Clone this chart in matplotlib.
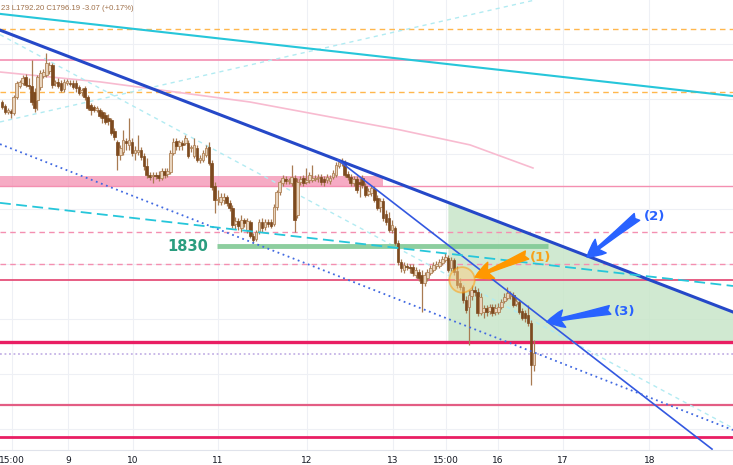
import numpy as np
import matplotlib
matplotlib.use("Agg")
import matplotlib.pyplot as plt
from matplotlib.patches import Ellipse

# candle data, one bar per index
opens = [
    1878.0, 1876.7, 1874.7, 1875.0, 1874.3, 1879.7, 1883.3, 1884.3, 1886.3, 1883.7,
    1883.3, 1881.3, 1878.7, 1883.0, 1886.7, 1887.0, 1888.3, 1890.3, 1884.3, 1884.7,
    1884.3, 1882.3, 1884.3, 1884.3, 1884.3, 1884.3, 1883.0, 1881.3, 1882.7, 1879.7,
    1877.0, 1876.3, 1875.3, 1875.3, 1874.7, 1873.7, 1872.7, 1872.0, 1868.3, 1864.7,
    1860.3, 1861.3, 1865.0, 1863.7, 1864.7, 1861.0, 1861.3, 1862.0, 1860.0, 1856.7,
    1853.7, 1853.3, 1853.7, 1853.7, 1852.7, 1855.0, 1854.0, 1854.7, 1861.0, 1865.0,
    1863.3, 1864.3, 1864.3, 1864.3, 1862.7, 1860.0, 1862.7, 1858.7, 1858.7, 1860.3,
    1863.0, 1857.7, 1850.0, 1845.3, 1844.7, 1845.3, 1846.3, 1844.3, 1842.7, 1837.3,
    1838.3, 1836.0, 1838.7, 1835.3, 1838.0, 1833.3, 1832.3, 1834.7, 1838.0, 1836.3,
    1838.0, 1838.0, 1837.3, 1843.0, 1848.0, 1851.0, 1852.3, 1851.7, 1851.0, 1852.7,
    1840.3, 1851.3, 1852.7, 1851.3, 1852.0, 1852.0, 1852.3, 1852.7, 1853.0, 1852.3,
    1852.0, 1851.7, 1853.0, 1853.7, 1856.7, 1857.7, 1858.0, 1854.0, 1853.0, 1851.0,
    1852.3, 1851.3, 1852.7, 1850.0, 1847.3, 1847.7, 1849.0, 1846.0, 1843.0, 1845.0,
    1840.7, 1839.3, 1835.3, 1836.0, 1831.0, 1824.7, 1822.0, 1823.3, 1823.0, 1823.0,
    1820.3, 1821.3, 1820.3, 1817.7, 1819.3, 1821.0, 1822.0, 1823.3, 1823.3, 1824.3,
    1825.3, 1826.0, 1822.7, 1825.3, 1821.7, 1817.7, 1816.3, 1812.0, 1809.7, 1813.3,
    1815.3, 1814.7, 1807.7, 1808.0, 1809.3, 1808.3, 1809.7, 1808.0, 1808.0, 1809.7,
    1811.7, 1812.7, 1813.3, 1813.7, 1810.7, 1811.3, 1808.3, 1807.7, 1807.0, 1804.3,
    1790.3]
highs = [
    1878.7, 1877.3, 1876.0, 1875.7, 1880.3, 1885.0, 1885.3, 1887.0, 1887.3, 1886.0,
    1892.0, 1882.7, 1887.0, 1888.7, 1889.0, 1894.3, 1891.3, 1891.0, 1885.3, 1886.0,
    1885.3, 1885.7, 1885.7, 1885.3, 1885.3, 1885.3, 1883.7, 1882.7, 1883.3, 1880.3,
    1877.7, 1877.0, 1876.7, 1876.0, 1875.3, 1874.7, 1874.0, 1872.7, 1869.3, 1865.3,
    1863.7, 1868.7, 1866.0, 1872.7, 1866.0, 1863.3, 1867.0, 1863.0, 1861.0, 1859.3,
    1854.7, 1854.7, 1854.7, 1855.0, 1856.0, 1856.0, 1856.0, 1862.0, 1866.0, 1866.0,
    1865.3, 1865.3, 1867.0, 1865.3, 1863.7, 1866.0, 1863.7, 1860.3, 1862.0, 1863.7,
    1864.7, 1858.7, 1851.3, 1848.7, 1847.7, 1847.7, 1847.0, 1845.3, 1843.7, 1839.7,
    1839.3, 1840.3, 1839.3, 1839.3, 1838.7, 1834.3, 1835.3, 1839.0, 1839.3, 1839.0,
    1839.0, 1839.0, 1844.0, 1848.7, 1852.0, 1853.7, 1853.3, 1852.7, 1857.0, 1853.7,
    1852.7, 1853.3, 1853.7, 1856.0, 1854.7, 1857.0, 1853.7, 1854.0, 1854.0, 1853.3,
    1854.0, 1853.7, 1855.3, 1858.0, 1858.7, 1859.3, 1858.7, 1855.0, 1854.0, 1853.3,
    1853.3, 1852.7, 1853.7, 1851.0, 1849.3, 1850.3, 1850.0, 1847.0, 1846.0, 1846.0,
    1842.0, 1841.3, 1838.7, 1836.7, 1832.0, 1825.7, 1824.7, 1824.3, 1824.0, 1824.0,
    1823.0, 1822.3, 1822.0, 1821.3, 1822.3, 1823.7, 1824.7, 1825.0, 1825.7, 1826.7,
    1827.7, 1827.0, 1826.3, 1826.0, 1823.3, 1819.3, 1817.0, 1813.3, 1815.3, 1817.0,
    1816.7, 1816.0, 1814.3, 1810.3, 1810.3, 1810.7, 1810.7, 1810.7, 1811.0, 1812.3,
    1814.3, 1816.3, 1815.0, 1814.7, 1812.7, 1812.3, 1809.3, 1808.7, 1810.3, 1805.3,
    1798.7]
lows = [
    1875.7, 1874.0, 1874.0, 1872.7, 1873.7, 1879.0, 1882.7, 1883.7, 1883.0, 1882.3,
    1877.0, 1874.7, 1875.3, 1882.0, 1886.0, 1886.3, 1887.3, 1882.7, 1883.3, 1882.7,
    1881.3, 1881.3, 1883.7, 1883.3, 1882.3, 1881.3, 1880.3, 1880.0, 1878.7, 1875.3,
    1873.7, 1874.7, 1874.7, 1872.7, 1871.0, 1870.7, 1870.3, 1867.0, 1865.3, 1855.3,
    1858.7, 1860.3, 1862.0, 1862.0, 1860.0, 1858.7, 1860.3, 1858.7, 1855.3, 1852.7,
    1852.0, 1851.0, 1852.3, 1851.7, 1852.0, 1852.7, 1853.0, 1854.0, 1860.3, 1862.0,
    1862.0, 1862.0, 1863.7, 1859.3, 1861.3, 1859.3, 1858.0, 1857.7, 1858.0, 1859.7,
    1857.0, 1848.7, 1841.0, 1843.7, 1843.7, 1844.0, 1843.3, 1841.7, 1836.0, 1835.7,
    1835.3, 1834.7, 1836.3, 1834.3, 1832.7, 1831.0, 1831.7, 1834.0, 1834.7, 1835.3,
    1836.3, 1836.0, 1836.7, 1842.0, 1847.0, 1850.0, 1850.7, 1850.7, 1850.0, 1834.7,
    1839.3, 1850.3, 1850.0, 1850.7, 1851.0, 1851.3, 1851.7, 1851.3, 1850.3, 1850.0,
    1851.0, 1850.7, 1852.3, 1853.0, 1856.0, 1856.7, 1853.0, 1852.0, 1850.0, 1850.0,
    1847.7, 1846.3, 1849.3, 1846.3, 1846.7, 1846.7, 1844.7, 1842.0, 1841.3, 1838.3,
    1837.0, 1834.7, 1834.3, 1830.3, 1823.7, 1821.3, 1821.0, 1822.0, 1821.0, 1820.0,
    1819.3, 1818.3, 1808.0, 1816.7, 1818.3, 1820.3, 1821.3, 1822.3, 1822.7, 1823.7,
    1824.7, 1821.3, 1821.7, 1820.3, 1816.0, 1815.3, 1811.0, 1807.7, 1797.0, 1812.0,
    1813.3, 1806.7, 1807.0, 1806.0, 1806.7, 1807.3, 1806.7, 1807.0, 1807.3, 1809.0,
    1811.0, 1812.0, 1812.3, 1809.7, 1810.0, 1807.3, 1805.3, 1804.7, 1803.3, 1783.7,
    1788.3]
closes = [
    1876.3, 1874.7, 1875.3, 1874.3, 1879.7, 1884.3, 1884.7, 1886.0, 1883.7, 1883.3,
    1878.0, 1876.0, 1886.3, 1887.7, 1888.0, 1891.0, 1890.3, 1883.7, 1884.7, 1883.3,
    1882.0, 1884.7, 1885.0, 1884.0, 1883.0, 1882.7, 1881.0, 1882.0, 1879.7, 1876.0,
    1875.3, 1875.3, 1876.0, 1873.3, 1872.7, 1871.3, 1871.7, 1867.7, 1866.3, 1860.3,
    1862.7, 1865.3, 1864.3, 1865.3, 1861.0, 1862.0, 1862.0, 1859.7, 1856.7, 1853.7,
    1853.0, 1853.7, 1853.3, 1852.7, 1855.0, 1853.7, 1855.0, 1861.0, 1864.7, 1863.3,
    1864.7, 1863.7, 1866.0, 1860.0, 1863.0, 1863.7, 1858.7, 1859.3, 1861.0, 1862.7,
    1857.7, 1849.7, 1845.3, 1845.7, 1846.3, 1846.3, 1844.3, 1842.7, 1837.0, 1838.3,
    1836.7, 1838.7, 1837.7, 1838.3, 1833.3, 1832.0, 1834.7, 1838.0, 1836.0, 1838.0,
    1837.3, 1836.7, 1843.0, 1848.0, 1851.3, 1852.7, 1851.7, 1852.0, 1853.0, 1838.7,
    1851.3, 1852.3, 1851.0, 1852.0, 1853.7, 1852.7, 1852.7, 1853.0, 1851.3, 1851.3,
    1853.0, 1852.7, 1854.3, 1857.0, 1858.0, 1858.3, 1853.7, 1853.0, 1851.0, 1852.3,
    1848.7, 1850.7, 1850.3, 1847.0, 1848.3, 1849.3, 1845.3, 1842.7, 1845.0, 1839.3,
    1838.0, 1835.3, 1837.0, 1831.0, 1824.7, 1822.7, 1823.7, 1823.0, 1822.7, 1821.0,
    1822.0, 1819.3, 1817.7, 1820.3, 1821.3, 1822.7, 1823.7, 1824.0, 1824.7, 1825.7,
    1826.3, 1822.0, 1825.3, 1821.3, 1817.0, 1816.3, 1812.0, 1808.7, 1813.7, 1815.3,
    1814.7, 1807.7, 1813.0, 1809.3, 1808.0, 1809.7, 1807.7, 1809.3, 1809.7, 1811.3,
    1813.0, 1814.3, 1813.7, 1810.3, 1811.7, 1808.0, 1806.0, 1806.0, 1804.3, 1790.3,
    1794.3]

tick_pos = [3.4, 22.3, 44.3, 73.1, 103.2, 132.3, 150.3, 167.9, 189.8, 219.1]
tick_labels = ["15:00", "9", "10", "11", "12", "13", "15:00", "16", "17", "18"]

# horizontal levels
orange_dashed = [1902.3, 1881.3]
pink_dashed = [1834.7, 1824.0]
lavender_dotted = [1794.0]
red_levels = [1892.0, 1850.0, 1818.7, 1798.0, 1777.0, 1766.3]
red_widths = [1.2, 1.0, 1.3, 2.4, 1.6, 2.0]
red_colors = ["#f48fb1", "#f48fb1", "#e5507a", "#e91e63", "#e35d84", "#e91e63"]
band_x = [-0.7, 128.9]
band_low, band_high = 1849.7, 1853.3
grid_levels = [1897.3, 1879.0, 1860.7, 1842.3, 1824.0, 1805.7, 1787.3, 1769.0]

level_1830 = 1830.0
level_1830_x = [72.8, 184.8]

# trendlines: two anchor points each (bar index, price)
cyan_solid = [(0, 1907.3), (240, 1880.8)]
blue_thick = [(0, 1901.7), (240, 1810.8)]
blue_thin = [(113.7, 1858.7), (240.3, 1762.3)]
blue_dotted = [(0, 1863.7), (240, 1771.5)]
cyan_dashed = [(0, 1844.3), (240, 1817.5)]
faint_up = [(0, 1871.5), (180.4, 1912.0)]
faint_down = [(0, 1900.1), (240, 1773.2)]

ma_x = [-0.7, 33.2, 83.9, 134.7, 158.4, 179.7]
ma_y = [1888.0, 1884.7, 1878.0, 1868.7, 1863.7, 1856.0]

zone_x = [150.9, 247.4]
zone_bottom = 1798.0

fig = plt.figure(figsize=(7.33, 4.65), dpi=100)
ax = fig.add_axes([0, 15 / 465, 1, 450 / 465])
ax.set_xlim(-0.68, 247.4)
ax.set_ylim(1762, 1912)


def line_at(pts, x):
    (x0, y0), (x1, y1) = pts
    return y0 + (y1 - y0) * (np.asarray(x) - x0) / (x1 - x0)


# grid
for t in tick_pos:
    ax.axvline(t, color="#eef0f5", lw=0.8, zorder=0)
for g in grid_levels:
    ax.axhline(g, color="#eef0f5", lw=0.8, zorder=0)

# green zone under the main trendline
zx = np.array(zone_x)
ax.fill_between(zx, zone_bottom, line_at(blue_thick, zx), color="#c8e6c9", alpha=0.85, lw=0, zorder=1)

# pink band
ax.fill_between(band_x, band_low, band_high, color="#f48fb1", alpha=0.75, lw=0, zorder=1)

for y in orange_dashed:
    ax.axhline(y, color="#ffb74d", lw=1.0, ls=(0, (4, 3)), zorder=2)
for y in pink_dashed:
    ax.axhline(y, color="#f48fb1", lw=1.0, ls=(0, (4, 3)), zorder=2)
for y in lavender_dotted:
    ax.axhline(y, color="#c5b3e6", lw=1.3, ls=(0, (1, 1.5)), zorder=2)
for y, w, c in zip(red_levels, red_widths, red_colors):
    ax.axhline(y, color=c, lw=w, zorder=2)

ax.plot(ma_x, ma_y, color="#f8bbd0", lw=1.2, zorder=2)

# faint helper lines
for pts in (faint_up, faint_down):
    ax.axline(pts[0], pts[1], color="#b2ebf2", lw=1.0, ls=(0, (3, 3)), zorder=2)

ax.plot(level_1830_x, [level_1830, level_1830], color="#81c995", lw=3.5, alpha=0.9, zorder=2,
        solid_capstyle="butt")
ax.text(69.7, level_1830, "1830", color="#2a9d7f", fontsize=10.5, fontweight="bold",
        ha="right", va="center", zorder=6)

# candles
idx = np.arange(len(closes))
for i, o, h, l, c in zip(idx, opens, highs, lows, closes):
    up = c >= o
    ax.vlines(i, l, h, color="#a87b52", lw=0.9, zorder=3)
    bottom = min(o, c)
    height = max(abs(c - o), 0.4)
    if up:
        ax.bar(i, height, bottom=bottom, width=0.9, color="#e8d4be", edgecolor="#b08358",
               linewidth=0.6, zorder=3)
    else:
        ax.bar(i, height, bottom=bottom, width=0.9, color="#7d4a1f", edgecolor="#7d4a1f",
               linewidth=0.5, zorder=3)

# trendlines
ax.axline(cyan_solid[0], cyan_solid[1], color="#26c6da", lw=1.5, zorder=4)
ax.axline(blue_thick[0], blue_thick[1], color="#2548c8", lw=2.2, zorder=4)
ax.plot(*zip(*blue_thin), color="#3358e0", lw=1.2, zorder=4)
ax.axline(blue_dotted[0], blue_dotted[1], color="#4169e1", lw=1.3, ls=(0, (1, 2)), zorder=4)
ax.axline(cyan_dashed[0], cyan_dashed[1], color="#26c6da", lw=1.3, ls=(0, (6, 3)), zorder=4)

# annotations
ax.add_patch(Ellipse((155.7, 1818.7), 8.6, 8.5, facecolor="#ffcc80", alpha=0.5,
                     edgecolor="#ff9800", lw=1.3, zorder=5))
arrow = "fancy,head_length=0.9,head_width=0.9,tail_width=0.45"
ax.annotate("", xy=(160.1, 1819.6), xytext=(177.7, 1827.0),
            arrowprops=dict(arrowstyle=arrow, color="#ff9800", mutation_scale=14,
                            shrinkA=0, shrinkB=0), zorder=6)
ax.annotate("", xy=(198.0, 1826.3), xytext=(214.9, 1839.7),
            arrowprops=dict(arrowstyle=arrow, color="#2962ff", mutation_scale=14,
                            shrinkA=0, shrinkB=0), zorder=6)
ax.annotate("", xy=(184.4, 1804.7), xytext=(205.8, 1808.7),
            arrowprops=dict(arrowstyle=arrow, color="#2962ff", mutation_scale=14,
                            shrinkA=0, shrinkB=0), zorder=6)
ax.text(182.4, 1826.3, "(1)", color="#f7a21b", fontsize=9.5, fontweight="bold", ha="center", va="center")
ax.text(221.0, 1839.7, "(2)", color="#2962ff", fontsize=9.5, fontweight="bold", ha="center", va="center")
ax.text(210.8, 1808.3, "(3)", color="#2962ff", fontsize=9.5, fontweight="bold", ha="center", va="center")

ax.set_xticks(tick_pos)
ax.set_xticklabels(tick_labels)
ax.set_yticks([])
ax.tick_params(axis="x", length=0, pad=4, labelsize=6.5, colors="#131722")
for s in ("top", "left", "right"):
    ax.spines[s].set_visible(False)
ax.spines["bottom"].set_color("#e0e3eb")
ax.spines["bottom"].set_linewidth(0.8)

fig.text(0.001, 1 - 8 / 465, "23 L1792.20 C1796.19 -3.07 (+0.17%)", fontsize=5.6,
         family="Liberation Sans", color="#a0714a", va="center", ha="left")

fig.savefig("out.png", dpi=100)
